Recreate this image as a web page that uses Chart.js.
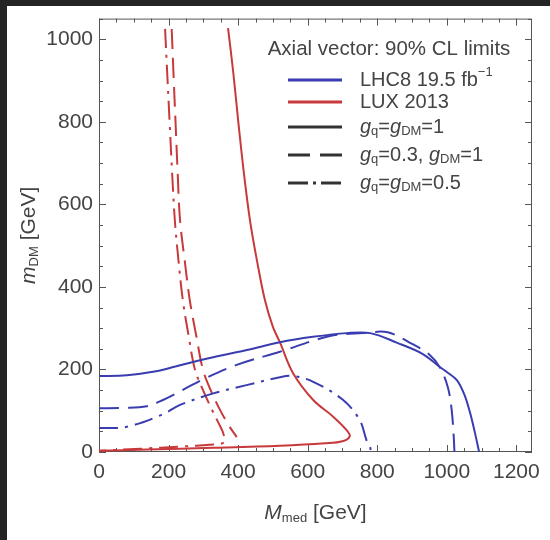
<!DOCTYPE html>
<html>
<head>
<meta charset="utf-8">
<script src="https://cdn.jsdelivr.net/npm/chart.js@4.4.1/dist/chart.umd.min.js"></script>
<style>
  html, body { margin: 0; padding: 0; background: #fff; overflow: hidden; }
  #wrap { position: relative; width: 550px; height: 540px; background: #fff; overflow: hidden; }
  .edge { position: absolute; background: #242424; }
  #chart { position: absolute; left: 0; top: 0; }
</style>
</head>
<body>
<div id="wrap">
  <div class="edge" style="left:0;top:0;width:7px;height:540px"></div>
  <div class="edge" style="left:0;top:0;width:550px;height:6px"></div>
  <canvas id="chart" width="550" height="540"></canvas>
</div>
<script>
// Axial vector mediator: 90% CL exclusion contours (M_med vs m_DM, GeV)

// LHC8 19.5 fb-1, gq = gDM = 1
const lhcSolidX = [0, 80, 160, 220, 270, 340, 425, 520, 615, 712, 780, 856, 930, 980, 1000, 1029, 1050, 1066, 1080, 1093];
const lhcSolidY = [184, 186, 195, 207, 218, 232, 247, 266, 279, 288, 288, 265, 238, 206, 194, 174, 140, 98, 50, 0];

// LHC8, gq = 0.3, gDM = 1
const lhcDashX = [0, 70, 137, 184, 240, 299, 396, 520, 664, 760, 830, 900, 951, 980, 1003, 1014, 1020, 1022];
const lhcDashY = [106, 107, 111, 126, 150, 176, 211, 243, 281, 288, 290, 262, 235, 205, 157, 102, 36, 0];

// LHC8, gq = gDM = 0.5
const lhcDotDashX = [0, 80, 180, 233, 329, 424, 520, 559, 616, 702, 750, 769, 779, 782];
const lhcDotDashY = [58, 61, 90, 114, 142, 162, 181, 184, 170, 126, 77, 29, 13, 0];

// LUX 2013, gq = gDM = 1
const luxSolidX = [371, 386, 400, 416, 434, 455, 477, 500, 520, 558, 616, 674, 712, 721, 700, 650, 520, 329, 137, 0];
const luxSolidY = [1027, 920, 804, 680, 562, 460, 368, 303, 266, 191, 126, 85, 53, 38, 26, 21, 15, 10, 6, 3];

// LUX 2013, gq = 0.3, gDM = 1
const luxDashX = [209, 214, 220, 226, 233, 247, 261, 280, 299, 322, 348, 372, 396];
const luxDashY = [1025, 920, 800, 680, 562, 460, 368, 280, 199, 148, 102, 66, 36];

// LUX 2013, gq = gDM = 0.5
const luxDotDashX = [190, 196, 203, 210, 218, 229, 241, 258, 276, 300, 325, 345, 357, 361, 350, 328, 233, 120, 0];
const luxDotDashY = [1025, 920, 800, 680, 562, 460, 368, 280, 199, 148, 102, 68, 46, 25, 20, 18, 13, 8, 3];

const xTicks = [0, 200, 400, 600, 800, 1000, 1200];
const yTicks = [0, 200, 400, 600, 800, 1000];

const FONT = '"Liberation Sans", Arial, Helvetica, sans-serif';
const TEXT = '#444';
const BLUE = '#3a3db0';
const RED = '#c8393b';
const DASH = [20, 9];
const DOTDASH = [19, 7, 3, 7];

function series(xs, ys) {
    return xs.map((v, i) => ({ x: v, y: ys[i] }));
}

function curve(xs, ys, color, dash) {
    return {
        data: series(xs, ys),
        borderColor: color,
        borderWidth: 2,
        borderDash: dash,
        pointRadius: 0,
        showLine: true,
        fill: false,
        tension: 0.35
    };
}

// Draw a run of text pieces (italic, subscripts, superscripts) one after another
function drawRich(ctx, parts, x, y, align) {
    const fontOf = p => (p.italic ? 'italic ' : '') + p.size + 'px ' + FONT;
    let w = 0;
    parts.forEach(p => { ctx.font = fontOf(p); w += ctx.measureText(p.t).width; });
    let cx = align === 'center' ? x - w / 2 : x;
    parts.forEach(p => {
        ctx.font = fontOf(p);
        ctx.fillText(p.t, cx, y + (p.dy || 0));
        cx += ctx.measureText(p.t).width;
    });
}

function gParts(rest) {
    return [
        { t: 'g', size: 20, italic: true },
        { t: 'q', size: 13, dy: 4 },
        ...rest
    ];
}

const legendRows = [
    { color: BLUE, dash: [], parts: [{ t: 'LHC8 19.5 fb', size: 20 }, { t: '\u22121', size: 13, dy: -8 }] },
    { color: RED, dash: [], parts: [{ t: 'LUX 2013', size: 20 }] },
    { color: '#333', dash: [], parts: gParts([{ t: '=', size: 20 }, { t: 'g', size: 20, italic: true }, { t: 'DM', size: 13, dy: 4 }, { t: '=1', size: 20 }]) },
    { color: '#333', dash: [22, 10], parts: gParts([{ t: '=0.3, ', size: 20 }, { t: 'g', size: 20, italic: true }, { t: 'DM', size: 13, dy: 4 }, { t: '=1', size: 20 }]) },
    { color: '#333', dash: [20, 5, 3, 5], parts: gParts([{ t: '=', size: 20 }, { t: 'g', size: 20, italic: true }, { t: 'DM', size: 13, dy: 4 }, { t: '=0.5', size: 20 }]) }
];
const legendRowY = [80, 102, 127, 155, 183];

// Frame with inward major/minor ticks on all four sides
const frameTicks = {
    id: 'frameTicks',
    beforeDatasetsDraw(chart) {
        const { ctx, chartArea: a, scales: { x, y } } = chart;
        ctx.save();
        ctx.strokeStyle = '#555';
        ctx.lineWidth = 1;
        ctx.strokeRect(a.left + 0.5, a.top + 0.5, a.right - a.left - 1, a.bottom - a.top - 1);
        ctx.beginPath();
        for (let v = 0; v <= x.max; v += 50) {
            const p = Math.round(x.getPixelForValue(v)) + 0.5;
            const len = v % 200 === 0 ? 7 : 4;
            ctx.moveTo(p, a.bottom); ctx.lineTo(p, a.bottom - len);
            ctx.moveTo(p, a.top); ctx.lineTo(p, a.top + len);
        }
        for (let v = 0; v <= y.max; v += 50) {
            const p = Math.round(y.getPixelForValue(v)) + 0.5;
            const len = v % 200 === 0 ? 7 : 4;
            ctx.moveTo(a.left, p); ctx.lineTo(a.left + len, p);
            ctx.moveTo(a.right, p); ctx.lineTo(a.right - len, p);
        }
        ctx.stroke();
        ctx.restore();
    }
};

// Axis titles and the legend in the upper right
const labelsPlugin = {
    id: 'labelsPlugin',
    afterDraw(chart) {
        const { ctx, chartArea: a } = chart;
        ctx.save();
        ctx.fillStyle = TEXT;
        ctx.textBaseline = 'middle';

        drawRich(ctx, [
            { t: 'M', size: 21, italic: true },
            { t: 'med', size: 13, dy: 5 },
            { t: ' [GeV]', size: 21 }
        ], (a.left + a.right) / 2, 513, 'center');

        ctx.save();
        ctx.translate(29, (a.top + a.bottom) / 2);
        ctx.rotate(-Math.PI / 2);
        drawRich(ctx, [
            { t: 'm', size: 21, italic: true },
            { t: 'DM', size: 13, dy: 5 },
            { t: ' [GeV]', size: 21 }
        ], 0, 0, 'center');
        ctx.restore();

        drawRich(ctx, [{ t: 'Axial vector: 90% CL limits', size: 20.5 }], 389, 49, 'center');

        legendRows.forEach((row, i) => {
            const ly = legendRowY[i];
            ctx.save();
            ctx.strokeStyle = row.color;
            ctx.lineWidth = 3;
            ctx.setLineDash(row.dash);
            ctx.beginPath();
            ctx.moveTo(288, ly);
            ctx.lineTo(342, ly);
            ctx.stroke();
            ctx.restore();
            drawRich(ctx, row.parts, 360, ly, 'left');
        });
        ctx.restore();
    }
};

const tickFont = { family: FONT, size: 21 };

new Chart(document.getElementById('chart'), {
    type: 'scatter',
    data: {
        datasets: [
            curve(lhcSolidX, lhcSolidY, BLUE, []),
            curve(lhcDashX, lhcDashY, BLUE, DASH),
            curve(lhcDotDashX, lhcDotDashY, BLUE, DOTDASH),
            curve(luxSolidX, luxSolidY, RED, []),
            curve(luxDashX, luxDashY, RED, DASH),
            curve(luxDotDashX, luxDotDashY, RED, DOTDASH)
        ]
    },
    options: {
        responsive: false,
        animation: false,
        layout: { padding: { left: 0, top: 18, right: 18, bottom: 0 } },
        plugins: {
            legend: { display: false },
            tooltip: { enabled: false }
        },
        scales: {
            x: {
                type: 'linear',
                min: 0,
                max: 1245,
                afterBuildTicks: s => { s.ticks = xTicks.map(v => ({ value: v })); },
                afterFit: s => { s.height = 88; },
                grid: { display: false, drawTicks: false },
                border: { display: false },
                ticks: { padding: 8, color: TEXT, font: tickFont, maxRotation: 0, callback: v => String(v) }
            },
            y: {
                type: 'linear',
                min: 0,
                max: 1050,
                afterBuildTicks: s => { s.ticks = yTicks.map(v => ({ value: v })); },
                afterFit: s => { s.width = 99; },
                grid: { display: false, drawTicks: false },
                border: { display: false },
                ticks: { padding: 6, color: TEXT, font: tickFont, callback: v => String(v) }
            }
        }
    },
    plugins: [frameTicks, labelsPlugin]
});
</script>
</body>
</html>
